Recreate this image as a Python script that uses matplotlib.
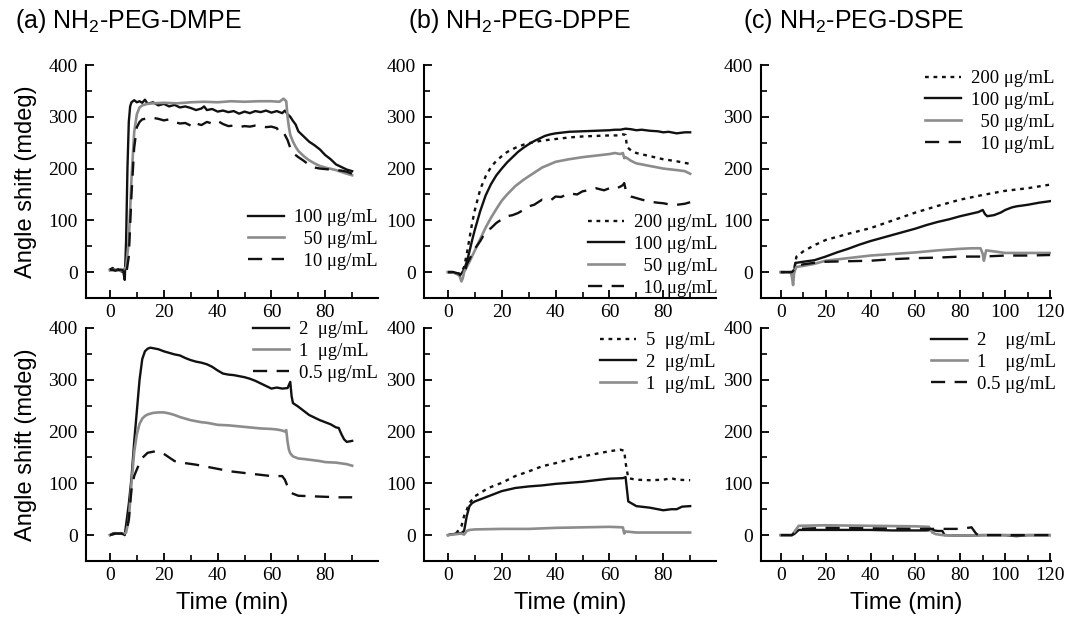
import numpy as np
import matplotlib.pyplot as plt
from matplotlib.ticker import MultipleLocator

plt.rcParams['font.family'] = 'Liberation Serif'
plt.rcParams['mathtext.fontset'] = 'custom'
plt.rcParams['mathtext.rm'] = 'Liberation Sans'

# ---- data (time in min, angle shift in mdeg) ----
# (a) DMPE, high concentrations
a1_100_t = [0, 1, 2, 3, 4, 5, 5.5, 6, 6.5, 7, 7.5, 8, 9, 10, 11, 12, 13, 14, 16, 18, 20, 22, 24, 26, 28, 30,
            32, 34, 35, 36, 38, 40, 42, 44, 46, 48, 50, 52, 54, 56, 58, 60, 62, 64, 65, 66, 67, 68, 69, 70,
            72, 74, 76, 78, 80, 82, 84, 86, 88, 90]
a1_100_y = [5, 8, 3, 6, 2, 0, -15, 60, 200, 290, 320, 328, 332, 328, 330, 327, 333, 325, 328, 322, 325, 320, 323,
            318, 320, 317, 313, 316, 320, 313, 315, 310, 312, 309, 311, 306, 310, 307, 311, 309, 312, 308, 311, 307,
            312, 305, 300, 292, 285, 272, 262, 252, 245, 237, 226, 218, 208, 203, 198, 195]
a1_50_t = [0, 2, 4, 5, 6, 7, 8, 9, 10, 11, 12, 14, 16, 20, 25, 30, 35, 40, 45, 50, 55, 60, 63, 64.5, 65.5, 66,
           66.5, 67, 68, 69, 70, 72, 74, 76, 78, 80, 84, 88, 90]
a1_50_y = [3, 5, 3, 5, 10, 60, 180, 270, 305, 318, 322, 325, 326, 327, 326, 328, 329, 328, 330, 329, 330, 330, 329,
           335, 330, 300, 280, 265, 252, 242, 234, 224, 216, 210, 205, 202, 197, 190, 187]
a1_10_t = [0, 2, 4, 5, 6, 7, 8, 9, 10, 11, 12, 14, 16, 18, 20, 22, 24, 26, 28, 30, 31, 32, 34, 36, 38, 40, 42, 44,
           46, 48, 50, 52, 54, 56, 58, 60, 62, 63, 64, 65, 66, 67, 68, 70, 72, 74, 76, 78, 80, 82, 84, 86, 88, 90]
a1_10_y = [5, 3, 5, 3, -5, 30, 150, 240, 280, 290, 295, 297, 298, 296, 293, 295, 290, 287, 288, 283, 280, 287, 284,
           290, 287, 292, 286, 282, 283, 280, 282, 281, 283, 282, 280, 281, 278, 270, 272, 265, 255, 240, 230, 222,
           215, 207, 202, 200, 199, 198, 197, 196, 194, 190]

# (b) DPPE, high concentrations
b1_200_t = [0, 2, 4, 5, 6, 7, 8, 9, 10, 12, 14, 16, 18, 20, 22, 25, 28, 30, 35, 40, 45, 50, 55, 60, 63, 65, 66,
            66.5, 68, 70, 75, 80, 85, 90]
b1_200_y = [0, 0, -3, 0, 10, 35, 65, 95, 120, 160, 185, 203, 215, 224, 232, 240, 246, 249, 254, 257, 260, 262, 263,
            264, 264, 266, 265, 242, 235, 230, 224, 218, 214, 209]
b1_100_t = [0, 2, 3, 4, 5, 6, 7, 8, 9, 10, 12, 14, 16, 18, 20, 22, 24, 26, 28, 30, 32, 34, 36, 38, 40, 45, 50, 55,
            60, 62, 64, 66, 68, 70, 72, 75, 78, 80, 82, 85, 88, 90]
b1_100_y = [0, 0, -3, -5, -3, 5, 20, 40, 62, 82, 118, 148, 170, 187, 200, 212, 222, 232, 240, 247, 253, 258, 263,
            266, 268, 271, 272, 273, 274, 275, 275, 277, 276, 274, 275, 273, 272, 270, 271, 268, 270, 270]
b1_50_t = [0, 2, 3, 4, 4.5, 5, 5.5, 6, 7, 8, 10, 12, 14, 16, 18, 20, 22, 25, 28, 30, 35, 40, 45, 50, 55, 60, 62,
           64, 65, 65.5, 66, 68, 70, 75, 80, 85, 88, 90]
b1_50_y = [0, 0, -3, -5, -10, -18, -12, 0, 10, 20, 42, 64, 86, 105, 122, 138, 150, 166, 178, 185, 202, 213, 218,
           222, 225, 228, 230, 228, 230, 220, 222, 215, 210, 205, 200, 197, 195, 190]
b1_10_t = [0, 2, 4, 5, 6, 7, 8, 10, 12, 14, 16, 18, 20, 22, 24, 26, 28, 30, 32, 35, 38, 40, 42, 45, 48, 50, 52, 55,
           58, 60, 62, 64, 65, 65.5, 66, 67, 68, 70, 72, 75, 78, 80, 82, 85, 88, 90]
b1_10_y = [0, 0, -3, -8, -5, 15, 25, 45, 60, 78, 85, 95, 102, 108, 110, 114, 120, 127, 130, 140, 138, 146, 145,
           152, 150, 156, 158, 162, 158, 162, 160, 165, 168, 172, 160, 149, 146, 143, 140, 136, 134, 133, 131, 130,
           132, 135]

# (c) DSPE, high concentrations
c1_200_t = [0, 2, 4, 5, 6, 6.5, 7, 8, 10, 15, 20, 25, 30, 40, 50, 60, 70, 80, 90, 100, 110, 120]
c1_200_y = [0, 0, 0, 0, 2, 20, 30, 33, 40, 52, 62, 68, 74, 85, 100, 115, 128, 140, 149, 157, 162, 169]
c1_100_t = [0, 2, 4, 5, 6, 6.5, 7, 10, 15, 20, 25, 30, 35, 40, 45, 50, 55, 60, 65, 70, 75, 80, 85, 88, 90, 91, 92,
            95, 98, 100, 103, 105, 110, 115, 120]
c1_100_y = [0, 0, 0, 0, 0, 18, 18, 20, 23, 30, 38, 45, 53, 60, 66, 72, 78, 84, 91, 97, 102, 108, 113, 116, 120,
            112, 108, 110, 115, 120, 125, 127, 130, 134, 137]
c1_50_t = [0, 2, 4, 4.5, 5, 5.5, 6, 7, 10, 15, 20, 30, 40, 50, 60, 70, 80, 85, 89, 90, 90.5, 91.5, 95, 100, 110, 120]
c1_50_y = [0, 0, 0, 0, -10, -25, 0, 10, 12, 16, 22, 27, 32, 35, 38, 42, 45, 46, 46, 35, 22, 42, 40, 37, 37, 37]
c1_10_t = [0, 2, 4, 5, 6, 7, 10, 15, 20, 30, 40, 50, 60, 70, 80, 90, 100, 110, 120]
c1_10_y = [0, 0, 0, 0, 5, 12, 15, 18, 20, 21, 22, 25, 27, 28, 30, 30, 32, 32, 33]

# (a) DMPE, low concentrations
a2_2_t = [0, 1, 2, 3, 4, 5, 5.5, 6, 7, 8, 9, 10, 11, 12, 13, 14, 15, 16, 18, 20, 22, 24, 26, 28, 30, 32, 34, 36,
          38, 40, 42, 44, 46, 48, 50, 52, 54, 56, 58, 60, 62, 64, 66, 67, 67.5, 68, 70, 72, 74, 76, 78, 80, 82,
          84, 85, 86, 87, 88, 90]
a2_2_y = [0, 3, 4, 3, 4, 2, 0, 20, 60, 110, 180, 240, 300, 340, 355, 360, 362, 361, 359, 355, 352, 349, 347, 342,
          338, 335, 333, 330, 325, 318, 312, 310, 309, 307, 305, 302, 298, 293, 288, 283, 285, 283, 284, 296, 268,
          255, 248, 240, 232, 227, 222, 218, 214, 208, 207, 195, 185, 180, 182]
a2_1_t = [0, 2, 4, 5, 6, 7, 8, 9, 10, 11, 12, 13, 14, 16, 18, 20, 22, 24, 26, 28, 30, 32, 34, 36, 38, 40, 44, 48,
          52, 56, 60, 62, 64, 65, 65.5, 66, 66.5, 67, 68, 70, 72, 75, 78, 80, 84, 88, 90]
a2_1_y = [0, 3, 3, 2, 5, 30, 100, 160, 195, 215, 225, 230, 233, 236, 237, 237, 235, 232, 228, 225, 222, 220, 218,
          217, 215, 213, 212, 210, 208, 206, 205, 204, 202, 200, 203, 180, 165, 158, 152, 148, 147, 145, 143, 141,
          140, 137, 134]
a2_05_t = [0, 2, 4, 5, 6, 7, 7.5, 8, 9, 10, 11, 12, 14, 17, 20, 24, 28, 32, 36, 40, 45, 50, 55, 60, 64, 65, 66,
           67, 68, 70, 75, 80, 85, 90]
a2_05_y = [0, 3, 3, 2, 5, 30, 60, 88, 114, 127, 139, 149, 159, 162, 157, 143, 139, 136, 132, 128, 123, 120, 117,
           114, 114, 107, 94, 83, 80, 76, 75, 74, 73, 73]

# (b) DPPE, low concentrations
b2_5_t = [0, 3, 5, 6, 7, 8, 10, 15, 20, 25, 30, 35, 40, 45, 50, 55, 60, 64, 65.5, 66, 67, 70, 75, 80, 83, 85, 90]
b2_5_y = [0, 3, 17, 37, 49, 62, 75, 91, 101, 114, 123, 133, 139, 146, 152, 157, 162, 165, 163, 140, 110, 107, 106,
          107, 110, 107, 106]
b2_2_t = [0, 3, 5, 6, 7, 8, 9, 10, 12, 15, 20, 25, 30, 35, 40, 45, 50, 55, 60, 65, 66, 67, 70, 75, 80, 83, 85, 87,
          90]
b2_2_y = [0, 3, 4, 8, 37, 56, 62, 65, 69, 75, 85, 91, 94, 96, 99, 101, 103, 106, 109, 110, 112, 65, 56, 53, 48,
          50, 50, 55, 56]
b2_1_t = [0, 5, 6, 7, 8, 10, 20, 30, 40, 50, 60, 65, 65.5, 66, 70, 80, 90]
b2_1_y = [0, 3, 1, 8, 10, 11, 12, 12, 14, 15, 16, 15, 3, 7, 5, 5, 5]

# (c) DSPE, low concentrations
c2_2_t = [0, 5, 6, 8, 10, 20, 30, 40, 50, 60, 65, 67, 70, 72, 73, 80, 90, 100, 105, 110, 120]
c2_2_y = [0, 0, 2, 10, 10, 10, 10, 10, 9, 9, 9, 10, 8, 8, 0, -1, 0, 0, -2, 0, 0]
c2_1_t = [0, 5, 7, 8, 20, 40, 60, 66, 67.5, 69, 72, 80, 90, 120]
c2_1_y = [0, 0, 12, 18, 19, 18, 17, 16, 5, 2, 0, -1, 0, 0]
c2_05_t = [0, 5, 8, 20, 40, 60, 70, 80, 85, 87, 88, 95, 120]
c2_05_y = [0, 0, 12, 14, 13, 12, 12, 12, 15, 3, 0, 0, 0]

titles = ['(a) NH$_{\\mathrm{2}}$-PEG-DMPE', '(b) NH$_{\\mathrm{2}}$-PEG-DPPE', '(c) NH$_{\\mathrm{2}}$-PEG-DSPE']

# ---- styles ----
BLACK = '#111111'
GRAY = '#8c8c8c'
styles = {
    'solid': dict(color=BLACK, lw=1.7, ls='-'),
    'gray': dict(color=GRAY, lw=1.9, ls='-'),
    'dash': dict(color=BLACK, lw=1.7, ls=(0, (6, 4))),
    'dot': dict(color=BLACK, lw=1.7, ls=(0, (1.6, 2.0))),
}

panels = [
    # row, col, series, legend anchor (px of handle start, legend top)
    (0, 0, [(a1_100_t, a1_100_y, 'solid', '100 μg/mL'),
            (a1_50_t, a1_50_y, 'gray', '  50 μg/mL'),
            (a1_10_t, a1_10_y, 'dash', '  10 μg/mL')], (248, 209)),
    (0, 1, [(b1_200_t, b1_200_y, 'dot', '200 μg/mL'),
            (b1_100_t, b1_100_y, 'solid', '100 μg/mL'),
            (b1_50_t, b1_50_y, 'gray', '  50 μg/mL'),
            (b1_10_t, b1_10_y, 'dash', '  10 μg/mL')], (588, 214)),
    (0, 2, [(c1_200_t, c1_200_y, 'dot', '200 μg/mL'),
            (c1_100_t, c1_100_y, 'solid', '100 μg/mL'),
            (c1_50_t, c1_50_y, 'gray', '  50 μg/mL'),
            (c1_10_t, c1_10_y, 'dash', '  10 μg/mL')], (925, 70)),
    (1, 0, [(a2_2_t, a2_2_y, 'solid', '2  μg/mL'),
            (a2_1_t, a2_1_y, 'gray', '1  μg/mL'),
            (a2_05_t, a2_05_y, 'dash', '0.5 μg/mL')], (253, 321)),
    (1, 1, [(b2_5_t, b2_5_y, 'dot', '5  μg/mL'),
            (b2_2_t, b2_2_y, 'solid', '2  μg/mL'),
            (b2_1_t, b2_1_y, 'gray', '1  μg/mL')], (600, 332)),
    (1, 2, [(c2_2_t, c2_2_y, 'solid', '2    μg/mL'),
            (c2_1_t, c2_1_y, 'gray', '1    μg/mL'),
            (c2_05_t, c2_05_y, 'dash', '0.5 μg/mL')], (931, 332)),
]

W, H = 1067, 619
fig = plt.figure(figsize=(W / 100, H / 100), dpi=100)

col_left = [86, 424, 761]
col_w = [292, 292, 290]
row_top = [65, 328]
ax_h = 233

for row, col, series, (lx, ly) in panels:
    left, top, ax_w = col_left[col], row_top[row], col_w[col]
    ax = fig.add_axes([left / W, 1 - (top + ax_h) / H, ax_w / W, ax_h / H])
    for t, y, key, lab in series:
        ax.plot(t, y, label=lab, **styles[key])

    ax.set_ylim(-50, 400)
    ax.set_yticks([0, 100, 200, 300, 400])
    ax.yaxis.set_minor_locator(MultipleLocator(50))
    if col == 2:
        ax.set_xlim(-8.8, 120.4)
        ax.set_xticks(range(0, 121, 20))
    else:
        ax.set_xlim(-8.9, 99.6)
        ax.set_xticks(range(0, 81, 20))
    ax.xaxis.set_minor_locator(MultipleLocator(10))

    for s in ['top', 'right']:
        ax.spines[s].set_visible(False)
    for s in ['left', 'bottom']:
        ax.spines[s].set_linewidth(1.5)
    ax.tick_params(which='both', direction='in', labelsize=14)
    ax.tick_params(which='major', length=6, width=1.3)
    ax.tick_params(which='minor', length=4, width=1.2)
    ax.tick_params(axis='y', pad=6)
    ax.tick_params(axis='x', pad=4)

    leg = ax.legend(loc='upper left', bbox_to_anchor=(lx / W, 1 - ly / H), bbox_transform=fig.transFigure,
                    frameon=False, fontsize=13.5, borderpad=0, borderaxespad=0, handlelength=1.9,
                    handletextpad=0.55, labelspacing=0.25)

    if col == 0:
        fig.text(26 / W, 1 - (top + ax_h / 2) / H, 'Angle shift (mdeg)', rotation=90,
                 ha='center', va='center', fontsize=17, family='Liberation Sans')
    if row == 1:
        fig.text((left + ax_w / 2) / W, 1 - 603 / H, 'Time (min)', ha='center', va='center',
                 fontsize=17, family='Liberation Sans')

title_x = [15, 408, 743]
for tx, title in zip(title_x, titles):
    fig.text(tx / W, 1 - 21 / H, title, ha='left', va='center', fontsize=18, family='Liberation Sans')

fig.savefig('out.png', dpi=100)
